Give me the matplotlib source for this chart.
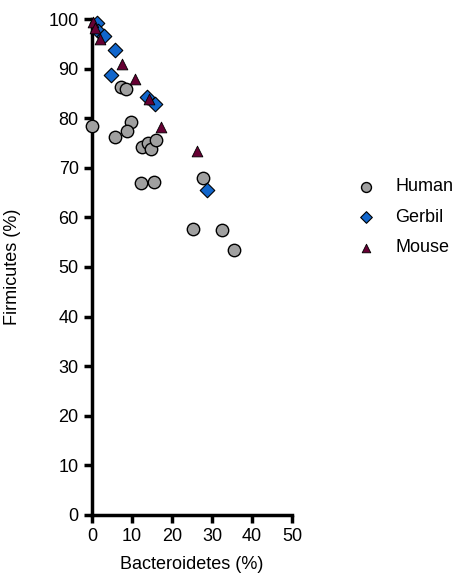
import matplotlib
matplotlib.use("Agg")
import matplotlib.pyplot as plt

plt.rcParams['font.family'] = ['Liberation Sans', 'DejaVu Sans']

# Human
human_x = [0.0, 7.2, 8.5, 9.9, 8.8, 5.9, 12.6, 14.1, 14.7, 16.0, 12.4, 15.5, 27.8, 25.2, 32.6, 35.5]
human_y = [78.4, 86.2, 85.8, 79.3, 77.4, 76.2, 74.2, 74.9, 73.8, 75.6, 67.0, 67.2, 68.0, 57.6, 57.5, 53.4]

# Gerbil
gerbil_x = [1.2, 1.5, 3.0, 5.8, 4.7, 13.8, 15.8, 28.7]
gerbil_y = [99.2, 97.5, 96.6, 93.8, 88.8, 84.3, 82.8, 65.5]

# Mouse
mouse_x = [0.4, 0.7, 2.0, 7.6, 10.8, 14.2, 17.2, 26.3]
mouse_y = [99.4, 98.2, 95.9, 91.0, 87.9, 83.8, 78.3, 73.4]

fig = plt.figure(figsize=(4.57, 5.76), dpi=100)
ax = fig.add_axes([0.201, 0.106, 0.438, 0.861])

ax.scatter(human_x, human_y, s=80, marker='o', c='#A0A0A0', edgecolors='black',
           linewidths=1.0, clip_on=False, zorder=3, label='Human')
ax.scatter(gerbil_x, gerbil_y, s=55, marker='D', c='#1166CC', edgecolors='black',
           linewidths=0.8, clip_on=False, zorder=4, label='Gerbil')
ax.scatter(mouse_x, mouse_y, s=60, marker='^', c='#660033', edgecolors='black',
           linewidths=0.6, clip_on=False, zorder=5, label='Mouse')

ax.set_xlim(0, 50)
ax.set_ylim(0, 100)
ax.set_xticks(range(0, 51, 10))
ax.set_yticks(range(0, 101, 10))
for s in ['top', 'right']:
    ax.spines[s].set_visible(False)
for s in ['left', 'bottom']:
    ax.spines[s].set_linewidth(2.5)
ax.tick_params(width=2.5, length=6, labelsize=13, direction='out')
ax.set_xlabel('Bacteroidetes (%)', fontsize=13, labelpad=8)
ax.set_ylabel('Firmicutes (%)', fontsize=13, labelpad=20)

ax.legend(loc='center left', bbox_to_anchor=(1.20, 0.60), frameon=False,
          fontsize=13, handletextpad=0.6, labelspacing=0.75, markerscale=0.8)

fig.savefig("out.png", dpi=100)
